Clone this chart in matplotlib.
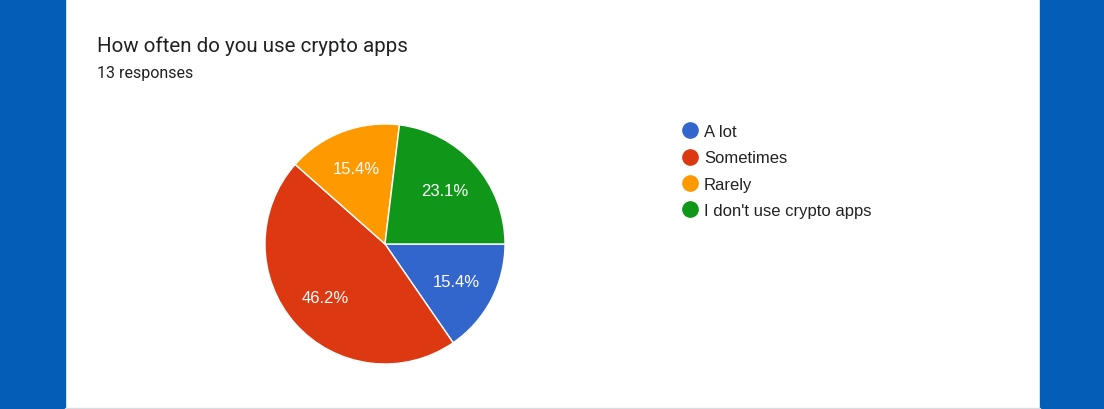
import matplotlib
import matplotlib.pyplot as plt
from matplotlib.lines import Line2D
from matplotlib.patches import Rectangle

matplotlib.use("Agg")
plt.rcParams["font.family"] = ["Roboto", "DejaVu Sans"]

categories = ["A lot", "Sometimes", "Rarely", "I don't use crypto apps"]
counts = [2, 6, 2, 3]
colors = ["#3366cc", "#dc3912", "#ff9900", "#109618"]
title = "How often do you use crypto apps"
subtitle = "13 responses"

W, H = 1104, 410
fig = plt.figure(figsize=(W / 100, H / 100), dpi=100)
fig.patch.set_facecolor("white")

# blue page background on the sides, light line at the bottom of the card
border = "#045db6"
fig.add_artist(Rectangle((0, 0), 65 / W, 1, transform=fig.transFigure, color=border, zorder=0))
fig.add_artist(Rectangle((1040 / W, 0), 64 / W, 1, transform=fig.transFigure, color=border, zorder=0))
fig.add_artist(Rectangle((65 / W, 0), 975 / W, 1.5 / H, transform=fig.transFigure, color="#dadce0", zorder=0))

fig.text(97 / W, 1 - 46 / H, title, fontsize=14.8, color="#202124", va="center", ha="left")
fig.text(97 / W, 1 - 74 / H, subtitle, fontsize=11.5, color="#202124", va="center", ha="left")

chart_font = ["Liberation Sans", "DejaVu Sans"]

# pie: center (385, 245) px, radius 120 px
cx, cy, r = 385, 245, 120
ax = fig.add_axes([(cx - r) / W, (H - cy - r) / H, 2 * r / W, 2 * r / H])
wedges, texts, autotexts = ax.pie(
    counts,
    colors=colors,
    startangle=0,
    counterclock=False,
    autopct="%.1f%%",
    pctdistance=0.67,
    wedgeprops=dict(edgecolor="white", linewidth=1),
    textprops=dict(color="white", fontsize=12, family=chart_font),
)
ax.set_xlim(-1, 1)
ax.set_ylim(-1, 1)
ax.set_aspect("equal")
ax.axis("off")

handles = [
    Line2D([], [], marker="o", linestyle="none", markersize=11, markerfacecolor=c, markeredgecolor=c)
    for c in colors
]
fig.legend(
    handles,
    categories,
    loc="upper left",
    bbox_to_anchor=(684 / W, 1 - 125 / H),
    frameon=False,
    prop=dict(family=chart_font, size=12),
    labelspacing=0.68,
    handlelength=0.75,
    handletextpad=0.45,
    borderpad=0,
    borderaxespad=0,
    labelcolor="#222222",
)

fig.savefig("out.png", dpi=100, facecolor="white")
plt.close(fig)
